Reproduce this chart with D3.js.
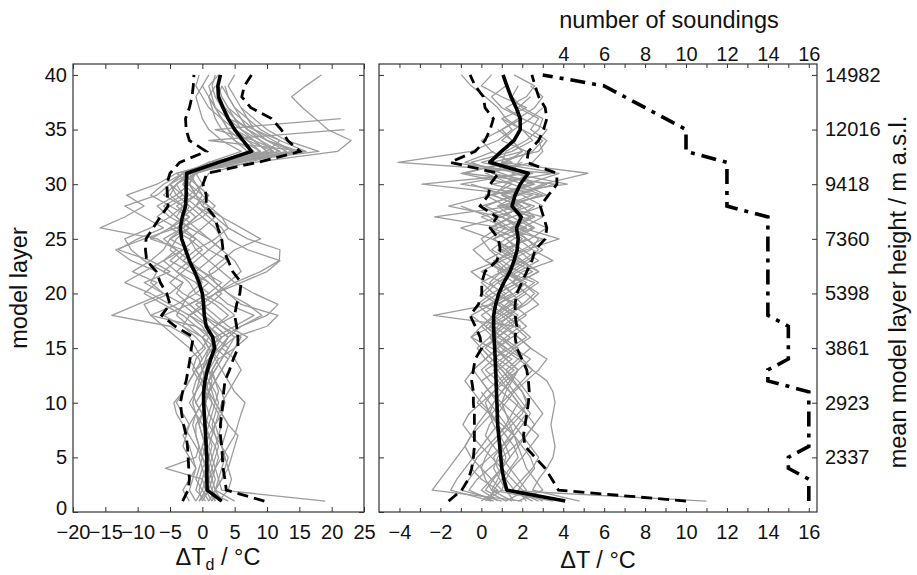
<!DOCTYPE html>
<html><head><meta charset="utf-8">
<script src="https://cdn.jsdelivr.net/npm/d3@7"></script>
<style>
body{margin:0;background:#fff}
text{font-family:"Liberation Sans",Arial,Helvetica,sans-serif;fill:#111}
</style>
</head><body>
<svg id="c" width="917" height="575"></svg>
<script>
// model layers 1..40
const layers = d3.range(1, 41);

// ---------- left panel: dew point difference ΔTd (°C) ----------
const tdMean  = [3.0,0.75,0.7,0.7,0.7,0.6,0.5,0.4,0.3,0.2, 0.2,0.4,0.8,1.3,1.9,1.6,0.6,0.3,0.2,0.0, -0.5,-1.2,-2.0,-2.6,-3.2,-3.4,-3.1,-2.6,-2.5,-2.5, -2.4,2.5,7.6,6.3,5.0,4.0,3.2,2.5,2.4,2.8];
const tdLow   = [-3.05,-2.2,-2.0,-2.1,-2.2,-2.3,-2.5,-2.9,-3.2,-3.4, -3.05,-2.5,-2.2,-1.9,-1.7,-1.4,-4.2,-6.3,-5.0,-5.5, -6.5,-7.1,-8.6,-8.8,-8.7,-7.6,-6.5,-5.3,-5.4,-5.5, -5.0,-3.5,0.6,-2.0,-2.5,-2.6,-2.0,-1.6,-1.4,-1.3];
const tdHigh  = [9.6,3.7,3.5,3.2,3.1,3.0,2.8,2.8,3.0,3.2, 3.3,3.5,4.2,4.8,5.5,5.5,5.3,5.0,5.3,5.8, 6.0,4.7,4.0,3.2,3.0,2.4,1.9,0.6,0.6,0.1, 0.7,8.6,15.1,13.2,12.2,10.7,7.5,6.1,6.5,7.6];
const tdSoundings = [
 [19,3,2.5,2,1.5,1,1.5,2,1,0.5, 1,2,3,4,2,0,-3,-6,-2,1, -1,-4,-6,-3,-8,-5,-2,-4,-1,-3, -1,5,12,9,6,4,3,2,1.5,2],
 [2,1,0.5,0,-0.5,0,1,0.5,0,-1, 0,1,2,3,4,2,5,8,4,2, 6,10,12,7,4,3,1,-1,0,-2, -3,8,20.9,23,19.4,17.5,15.5,13.8,16,18.4],
 [-1,-2,-1.5,-1,-2,-3,-2.5,-2,-3,-4, -3,-2,-1,0,-1,-2,-5,-14,-10,-6, -9,-5,-8,-13,-10,-6,-9,-12,-7,-5, -3,2,16,1,22,null,null,null,null,null],
 [0,1,1.5,2,3,4,5,5.5,6,6.6, 5,4,3,2,1,3,6,10,11.7,8, 5,9,11.9,12,7,4,2,0,1,-1, -2,6,10,8,2,21.4,null,null,null,null],
 [3,2,2.5,3,3.5,3,2.5,2,2.5,3, 4,5,6,5,3,4,2,0,-2,-4, -3,-6,-9,-11,-12,-8,-5,-3,-6,-4, -2,4,15,10,7,6,5,4,3,null],
 [1,0,-1,-0.5,0,0.5,0,-0.5,-1,-1.5, -1,0,0.5,1,2,3,1,-2,-5,-8, -12,-9,-6,-4,-7,-15.8,-12,-9,-11.7,-7, -4,3,8,5,3,2,1.5,1,2,null],
 [5,2,3,4,4.5,5,5.5,4,3,2, 1,0,-1,1,3,5,10,11.7,6,4, 2,1,3,5,9,6,3,1,-1,0, 1,7,14,11,8,6,4,3,null,null],
 [-2,-3,-2,-1,-1.5,-2,-3,-2,-1,0, 1,0,-1,-2,0,1,-1,-3,-6,-9, -7,-10.8,-8,-6,-5,-2,-4,-6,-3,-5, -2,1,6,3,1,0,-0.5,-1,0,1],
 [1.5,2,1.5,1,0.5,0,0.5,1,1.5,2, 2.5,2,1.5,2.5,5,6,3,1,-1,2, 5,3,1,-1,-2,0,2,-1,1,-1, -3,6,13,10,8,7,6,5,4,5],
 [0.5,-1,-0.5,0,1,1.5,1,0.5,1,1.5, 1,0.5,0,-0.5,-2,-4,-6,-8,-4,-1, 1,-2,-5,-3,-1,-4,-7,-5,-2,-3, -2,3,11,7,5,4,3,2.5,3,null],
 [-0.5,0.5,1,2,2.5,2,1,0,-1,-2, -1,-0.5,0,0.5,1,0,-2,-4,-3,-6, -8,-7,-11,-13.4,-9,-4,-2,-5,-8,-6, -3,1,9,6,4,3,2,1,null,null],
 [3,1.5,2,1.5,1,0.5,1,2,3,3.5, 3,2,1,2,3,4,6,9.2,7,4, 2,0,-3,-1,2,4,3,0,-1,-2, -4,2,10,12,9,7,5,4,3.5,null],
 [-1,0,0.5,1,0,-1,-2,-3,-4,-4.4, -3,-2,-1,0,1,2,-1,-8,-9,-5, -3,-6,-4,-2,-5,-3,-1,-3,-5,-4, -1,4,18,13,10,8,6,null,null,null],
 [2.5,4,4.5,4,3.5,3,3.5,4,3,2, 1.5,1,2,3,4,5,3,0,-2,1, 3,0,-2,-4,-6,-3,0,2,0,-1, -2,5,16,12,8,4,2,1,0,null],
 [4,0.5,0,-5.7,-1,-0.5,-1,-1,0,0.5, 1,2,3,4,5,7,4,2,0,-3, -5,-3,-1,1,3,2,0,-2,-4,-5, -3,3,12,8,5,3,1,0,-1,-0.5],
 [1,2,3,3.5,4,3,2,1,0,-1, -1.5,-1,0,1,2,1,0,-2,0,2, 4,6,5,3,1,-1,-3,-2,-4,-2, -1,2,7,5,4,3,2,1.5,1,2.5],
 [0,-0.5,0,0.5,1,0.5,0,-0.5,0,0.5, 1,1.5,1,0.5,1.5,2.5,1,-1,-3,-2, 0,-1,-3,-5,-4,-2,-4,-3,-1,-2, -1.5,4,9,7,5,4,3,null,null,null],
 [1.5,0.5,1,0.5,0,-0.5,-1,-1.5,-1,0, 0.5,1,1.5,2.5,1,0,2,4,2,-1, -2,-4,-2,0,-2,-5,-3,-1,-3,-4, -2,3,10,8,6,5,null,null,null,null],
 [-0.5,1,1.5,1,1.5,2,2.5,3,2.5,1.5, 0.5,-0.5,-1.5,-1,0.5,-1,-3,-2,1,3, 1,-1,1,3,1,-2,-5,-7,-4,-2, -3,3,11,9,7,5,4,3,2.5,null],
 [2,1.5,1,1.5,2,2.5,2,1.5,2,2.5, 2,1,0,1,2.5,4,2,5,3,0, -1,2,4,1,-1,-3,-1,1,-2,0, -1,4,14,10,7,5,3.5,2.5,null,null]
];

// ---------- right panel: temperature difference ΔT (°C) ----------
const tMean  = [4.1,1.25,1.1,1.0,0.95,0.9,0.85,0.8,0.78,0.76, 0.74,0.72,0.7,0.68,0.65,0.62,0.6,0.6,0.7,0.85, 1.1,1.4,1.6,1.75,1.8,1.72,1.95,1.5,1.65,1.9, 2.29,0.41,0.98,1.6,1.9,1.9,1.7,1.45,1.25,1.06];
const tLow   = [-1.6,-0.96,-0.63,-0.47,-0.39,-0.34,-0.34,-0.34,-0.34,-0.39, -0.39,-0.47,-0.39,-0.3,0.02,-0.06,-0.3,-0.55,-0.14,0.02, 0.02,0.18,0.76,0.92,0.84,0.43,0.76,-0.06,0.35,0.43, 0.84,-1.52,-0.3,0.18,0.43,0.59,0.18,0.1,-0.3,-0.55];
const tHigh  = [10.0,3.77,3.45,3.12,2.63,2.14,2.06,2.14,2.22,2.3, 2.34,2.3,2.22,1.98,1.73,1.65,1.73,1.65,1.65,1.73, 1.98,2.22,2.47,2.63,3.12,3.2,3.04,2.88,3.28,3.69, 3.69,2.22,2.3,2.8,3.04,3.2,3.12,2.8,2.63,2.47];
const tSoundings = [
 [1.5,0.5,0.8,1.0,1.2,1.0,0.8,1.2,1.5,1.8, 1.4,1.0,0.6,1.2,1.8,1.0,0.4,1.2,2.0,1.5, 0.8,1.6,2.4,1.8,1.2,2.2,1.0,-1.6,0.5,2.5, 1.0,-0.5,1.5,2.5,2.0,1.2,0.8,0.2,-0.5,-0.97],
 [3.0,2.0,1.5,1.0,0.5,0.0,-0.5,-0.9,-0.6,0.0, 0.6,1.2,1.8,2.4,1.6,0.8,1.4,2.2,1.5,0.8, 1.8,2.8,2.0,1.0,2.4,3.2,2.0,1.2,3.0,1.5, 0.2,2.5,3.0,2.8,3.2,2.0,1.2,2.2,2.6,1.6],
 [0.2,1.0,1.2,1.5,2.0,2.4,2.8,2.2,1.6,1.0, 0.4,0.0,0.8,1.5,0.5,-0.5,0.5,1.5,0.8,1.8, 2.6,1.2,0.6,2.0,3.0,1.0,-2.28,1.5,2.8,0.5, 3.5,-4.07,-0.5,0.8,1.5,1.0,2.2,1.0,0.0,0.5],
 [4.8,2.5,2.8,3.2,3.5,3.6,3.5,3.4,3.5,3.6, 3.5,3.2,2.5,1.8,1.0,0.5,1.2,2.0,2.8,2.2, 1.5,2.0,3.5,2.5,1.8,0.5,1.5,3.0,2.0,-2.9, 2.5,0.0,2.0,1.5,1.0,1.8,2.6,3.0,2.4,null],
 [11.0,1.0,0.5,0.0,-0.5,-0.8,-0.5,0.0,0.5,1.0, 1.5,2.0,2.5,2.0,1.5,1.0,0.2,-0.5,0.5,1.5, 1.0,0.0,1.0,2.2,3.8,2.0,1.0,0.0,1.8,3.0, 5.2,1.0,1.2,2.2,2.8,3.0,2.0,1.5,1.8,null],
 [2.0,-2.4,-2.0,-1.6,-1.2,-0.8,-0.5,-0.2,0.2,0.6, 1.0,1.4,1.0,0.5,0.0,0.8,1.6,-2.33,0.5,1.2, 0.2,-0.5,0.8,1.6,0.5,-1.0,1.0,2.0,0.5,1.5, -1.0,1.5,0.5,0.0,1.0,2.0,1.0,0.5,1.2,null],
 [0.8,0.0,0.5,1.0,1.4,1.8,2.2,2.6,3.0,2.6, 2.2,1.8,1.2,0.6,1.4,2.2,1.6,1.0,0.0,0.8, 1.8,2.8,1.8,0.8,1.6,2.6,1.8,2.6,1.0,2.2, 3.8,0.5,2.8,3.2,2.4,2.8,1.8,2.4,null,null],
 [1.2,2.2,1.8,1.4,1.0,0.6,0.2,0.4,0.8,1.2, 1.6,2.2,2.8,3.2,2.4,1.8,1.2,0.6,1.2,2.0, 2.8,1.8,1.0,0.4,0.0,0.8,2.4,1.2,0.2,4.2, 1.5,1.8,2.2,1.0,1.6,2.4,3.0,null,null,null],
 [0.0,0.8,0.0,-0.5,-0.2,0.3,0.8,1.3,1.8,2.3, 2.0,1.5,1.0,0.5,0.0,-0.5,0.0,0.8,1.5,1.0, 0.4,1.0,1.8,1.2,0.6,2.0,3.0,1.0,2.5,-1.0, 2.0,1.0,2.5,3.0,2.0,1.0,null,null,null,null],
 [2.5,1.5,2.0,2.5,2.8,2.4,2.0,1.6,1.2,0.8, 0.4,0.0,-0.4,0.2,0.8,1.5,2.2,1.6,0.8,0.0, 0.6,1.4,2.2,3.0,2.2,1.5,2.6,0.8,3.2,2.0, 0.6,1.2,2.0,1.5,0.8,null,null,null,null,null],
 [3.5,0.5,0.2,0.0,0.2,0.5,1.0,1.5,2.0,2.2, 2.0,1.6,1.2,1.8,2.4,1.8,1.0,0.4,-0.2,0.5, 1.5,2.5,1.5,0.5,1.2,2.5,1.5,0.8,1.8,3.2, 0.5,2.0,null,null,null,null,null,null,null,null],
 [0.5,-1.5,-1.2,-0.8,-0.4,0.0,0.4,0.8,0.5,0.0, -0.4,-0.8,-0.4,0.2,0.8,1.4,0.6,0.0,0.8,1.6, 2.2,1.2,0.2,-0.4,0.4,1.2,0.0,1.8,0.6,1.2, 2.5,-1.5,null,null,null,null,null,null,null,null],
 [1.8,3.0,2.6,2.2,2.0,1.8,1.6,1.4,1.2,1.0, 1.2,1.5,1.8,1.2,0.8,0.4,0.8,1.4,2.0,2.6, 2.0,1.4,0.8,1.4,2.0,1.2,0.4,-1.0,null,null, null,null,null,null,null,null,null,null,null,null],
 [0.6,-0.6,-0.2,0.4,1.0,1.6,2.2,2.6,2.2,1.6, 1.0,0.4,0.0,0.6,1.2,0.6,0.0,0.6,1.4,2.2, 1.6,0.8,1.4,2.4,2.8,1.8,1.0,2.0,null,null, null,null,null,null,null,null,null,null,null,null],
 [1.0,-1.0,-0.6,-0.2,0.4,1.0,1.6,2.0,2.4,2.0, 1.6,1.2,0.8,0.2,-0.2,0.4,1.0,null,null,null, null,null,null,null,null,null,null,null,null,null, null,null,null,null,null,null,null,null,null,null],
 [2.2,1.8,2.2,2.6,2.4,2.0,1.6,1.2,0.8,0.4, 0.0,null,null,null,null,null,null,null,null,null, null,null,null,null,null,null,null,null,null,null, null,null,null,null,null,null,null,null,null,null],
 [1.2,0.2,0.6,1.0,1.4,1.2,0.9,0.6,0.4,0.6, 1.0,1.4,1.8,1.2,0.6,1.2,1.9,1.2,0.4,1.2, 2.0,1.0,0.2,1.2,2.2,1.4,0.6,2.4,1.2,-0.5, null,null,null,null,null,null,null,null,null,null],
 [2.8,1.6,1.2,0.8,0.6,1.0,1.4,1.8,2.2,1.8, 1.4,0.8,0.2,1.0,1.6,2.4,1.8,1.2,2.2,2.8, 2.0,1.2,2.0,2.8,2.2,1.4,2.6,2.0,1.0,2.6, 1.8,-0.8,0.6,null,null,null,null,null,null,null],
 [0.4,0.6,1.0,1.4,1.8,1.6,1.2,0.8,0.4,0.2, 0.6,1.0,1.6,0.8,0.2,0.8,0.2,1.0,1.8,0.6, 0.0,1.0,2.0,1.4,0.6,1.6,2.4,1.2,null,null, null,null,null,null,null,null,null,null,null,null],
 [1.6,1.2,0.9,0.6,0.8,1.2,1.6,1.0,0.4,-0.2, 0.2,0.8,1.4,2.0,1.2,0.4,1.0,1.8,1.0,0.2, 0.8,1.8,2.8,2.0,1.2,0.4,1.4,0.2,1.6,3.6, -0.8,1.2,null,null,null,null,null,null,null,null]
];

// number of soundings per model layer (top axis of right panel)
const nSoundings = [16,16,16,15,15,16,16,16,16,16, 16,14,14,15,15,15,15,14,14,14, 14,14,14,14,14,14,14,12,12,12, 12,12,10,10,10,9,8,7,6,3];

// tick labels
const layerTicks = d3.range(0, 41, 5);
const tdTicks = d3.range(-20, 26, 5);
const tTicks = d3.range(-4, 17, 1);
const heightTicks = [5,10,15,20,25,30,35,40];
const heightLabels = ["2337","2923","3861","5398","7360","9418","12016","14982"];

// ---------- drawing ----------
const svg = d3.select("#c");
const FS = 20, TFS = 23.5;
const yTop = 64, yBottom = 512;
const y = d3.scaleLinear().domain([0, 41]).range([yBottom, yTop]);
const xL = d3.scaleLinear().domain([-20, 25]).range([73, 364]);
const xR = d3.scaleLinear().domain([-5, 16.4]).range([379, 817]);
const fmt = d3.format("d");

function frame(x0, x1) {
  svg.append("rect").attr("x", x0).attr("y", yTop).attr("width", x1 - x0).attr("height", yBottom - yTop)
    .attr("fill", "none").attr("stroke", "#333").attr("stroke-width", 1.2);
}
function styleAxis(g) {
  g.select(".domain").remove();
  g.selectAll(".tick line").attr("stroke", "#333").attr("stroke-width", 1);
  g.selectAll(".tick text").attr("font-size", FS).attr("fill", "#111")
    .attr("font-family", '"Liberation Sans",Arial,sans-serif');
}

function drawPanel(x, series, mean, low, high) {
  const line = d3.line().defined(d => d[0] !== null).x(d => x(d[0])).y(d => y(d[1]));
  const g = svg.append("g");
  series.forEach(s => {
    g.append("path").datum(s.map((v, i) => [v, layers[i]])).attr("d", line)
      .attr("fill", "none").attr("stroke", "#9c9c9c").attr("stroke-width", 1.3).attr("stroke-linejoin", "round");
  });
  [low, high].forEach(s => {
    g.append("path").datum(s.map((v, i) => [v, layers[i]])).attr("d", line)
      .attr("fill", "none").attr("stroke", "#000").attr("stroke-width", 2.8).attr("stroke-dasharray", "11,6");
  });
  g.append("path").datum(mean.map((v, i) => [v, layers[i]])).attr("d", line)
    .attr("fill", "none").attr("stroke", "#000").attr("stroke-width", 3.6).attr("stroke-linejoin", "round");
}

// left panel
drawPanel(xL, tdSoundings, tdMean, tdLow, tdHigh);
frame(73, 364);
svg.append("g").attr("transform", `translate(0,${yBottom})`)
  .call(d3.axisBottom(xL).tickValues(tdTicks).tickFormat(fmt).tickSizeInner(-5).tickSizeOuter(0).tickPadding(13))
  .call(styleAxis);
svg.append("g").attr("transform", `translate(0,${yTop})`)
  .call(d3.axisTop(xL).tickValues(tdTicks).tickFormat("").tickSizeInner(-5).tickSizeOuter(0))
  .call(styleAxis);
const yAxisL = svg.append("g").attr("transform", `translate(73,0)`)
  .call(d3.axisLeft(y).tickValues(layerTicks).tickFormat(fmt).tickSizeInner(-5).tickSizeOuter(0).tickPadding(6))
  .call(styleAxis);
// nudge the bottom "0" label up slightly so it clears the x labels
yAxisL.selectAll(".tick text").filter(d => d === 0).attr("dy", "0.1em");
svg.append("g").attr("transform", `translate(364,0)`)
  .call(d3.axisRight(y).tickValues(layerTicks).tickFormat("").tickSizeInner(-5).tickSizeOuter(0))
  .call(styleAxis);

// right panel
drawPanel(xR, tSoundings, tMean, tLow, tHigh);
const nLine = d3.line().x(d => xR(d[0])).y(d => y(d[1]));
svg.append("path").datum(nSoundings.map((v, i) => [v, layers[i]])).attr("d", nLine)
  .attr("fill", "none").attr("stroke", "#000").attr("stroke-width", 3.6)
  .attr("stroke-dasharray", "15,7,4,7");
frame(379, 817);
svg.append("g").attr("transform", `translate(0,${yBottom})`)
  .call(d3.axisBottom(xR).tickValues(tTicks).tickFormat(d => d % 2 === 0 ? fmt(d) : "").tickSizeInner(-4).tickSizeOuter(0).tickPadding(13))
  .call(styleAxis);
svg.append("g").attr("transform", `translate(0,${yTop})`)
  .call(d3.axisTop(xR).tickValues(tTicks).tickFormat(d => (d >= 4 && d % 2 === 0) ? fmt(d) : "").tickSizeInner(-4).tickSizeOuter(0).tickPadding(3))
  .call(styleAxis);
svg.append("g").attr("transform", `translate(379,0)`)
  .call(d3.axisLeft(y).tickValues(layerTicks).tickFormat("").tickSizeInner(-5).tickSizeOuter(0))
  .call(styleAxis);
svg.append("g").attr("transform", `translate(817,0)`)
  .call(d3.axisRight(y).tickValues(heightTicks).tickFormat((d, i) => heightLabels[i]).tickSizeInner(-5).tickSizeOuter(0).tickPadding(8))
  .call(styleAxis);

// axis titles
svg.append("text").attr("transform", "translate(27,288) rotate(-90)").attr("text-anchor", "middle")
  .attr("font-size", TFS).text("model layer");
svg.append("text").attr("transform", "translate(906,292) rotate(-90)").attr("text-anchor", "middle")
  .attr("font-size", TFS).text("mean model layer height / m a.s.l.");
svg.append("text").attr("x", 669).attr("y", 28).attr("text-anchor", "middle")
  .attr("font-size", TFS).text("number of soundings");
svg.append("text").attr("x", 598).attr("y", 568).attr("text-anchor", "middle")
  .attr("font-size", TFS).text("ΔT / °C");
const td = svg.append("text").attr("x", 218).attr("y", 565).attr("text-anchor", "middle").attr("font-size", TFS);
td.append("tspan").text("ΔT");
td.append("tspan").attr("font-size", 16).attr("dy", 5).text("d");
td.append("tspan").attr("dy", -5).text(" / °C");
</script>
</body></html>
